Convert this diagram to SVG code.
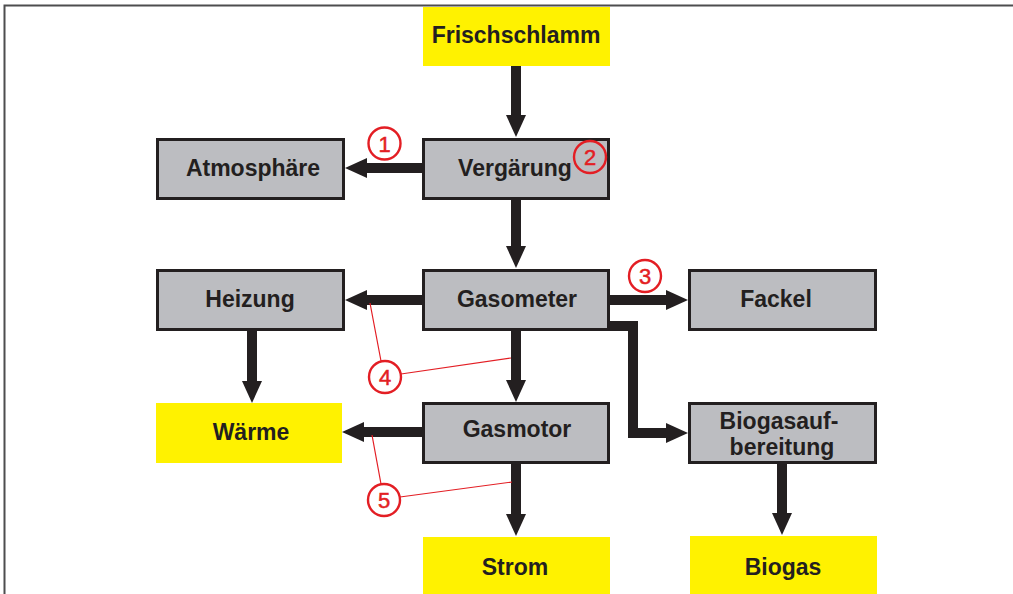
<svg xmlns="http://www.w3.org/2000/svg" width="1013" height="594" viewBox="0 0 1013 594">
<style>
.box{fill:#bcbdc1;stroke:#231f20;stroke-width:3}
.yel{fill:#fff200}
.t{font-family:"Liberation Sans",Arial,sans-serif;font-weight:bold;font-size:23px;fill:#231f20;text-anchor:middle}
.c{fill:none;stroke:#231f20;stroke-width:10;stroke-linejoin:miter}
.rc{fill:none;stroke:#e31e24;stroke-width:2.4}
.rl{fill:none;stroke:#e31e24;stroke-width:1.2}
.rn{font-family:"Liberation Sans",Arial,sans-serif;font-size:22px;fill:#e31e24;stroke:#e31e24;stroke-width:0.5;text-anchor:middle}
</style>
<defs>
<marker id="ah" viewBox="0 0 22 20" markerWidth="22" markerHeight="20" markerUnits="userSpaceOnUse" refX="1" refY="10" orient="auto">
<path d="M0,0 L22,10 L0,20 z" fill="#231f20"/>
</marker>
</defs>
<rect width="1013" height="594" fill="#ffffff"/>
<g id="frame" fill="none" stroke="#4d4d4f" stroke-width="2">
<path d="M4.5,594 V5.5 H1013"/>
</g>
<g id="connectors">
<path class="c" d="M516,66 V116" marker-end="url(#ah)"/>
<path class="c" d="M423,168 H366" marker-end="url(#ah)"/>
<path class="c" d="M516,200 V247" marker-end="url(#ah)"/>
<path class="c" d="M423,300 H366" marker-end="url(#ah)"/>
<path class="c" d="M609,300 H667" marker-end="url(#ah)"/>
<path class="c" d="M609,326 H633 V433 H667" marker-end="url(#ah)"/>
<path class="c" d="M516,331 V381" marker-end="url(#ah)"/>
<path class="c" d="M252,331 V382" marker-end="url(#ah)"/>
<path class="c" d="M423,432 H363" marker-end="url(#ah)"/>
<path class="c" d="M516,463 V515" marker-end="url(#ah)"/>
<path class="c" d="M782,463 V514" marker-end="url(#ah)"/>
</g>
<g id="frischschlamm"><rect class="yel" x="423" y="7" width="187" height="59"/><text class="t" x="516" y="43">Frischschlamm</text></g>
<g id="atmosphaere"><rect class="box" x="157.5" y="139.5" width="186" height="59"/><text class="t" x="253" y="176">Atmosphäre</text></g>
<g id="vergaerung"><rect class="box" x="423.5" y="139.5" width="185" height="59"/><text class="t" x="515" y="176">Vergärung</text></g>
<g id="heizung"><rect class="box" x="157.5" y="270.5" width="186" height="59"/><text class="t" x="250" y="307">Heizung</text></g>
<g id="gasometer"><rect class="box" x="423.5" y="270.5" width="185" height="59"/><text class="t" x="517" y="307">Gasometer</text></g>
<g id="fackel"><rect class="box" x="689.5" y="270.5" width="186" height="59"/><text class="t" x="776" y="307">Fackel</text></g>
<g id="waerme"><rect class="yel" x="156" y="403" width="186" height="60"/><text class="t" x="251" y="440">Wärme</text></g>
<g id="gasmotor"><rect class="box" x="423.5" y="403.5" width="185" height="59"/><text class="t" x="517" y="437">Gasmotor</text></g>
<g id="biogasaufbereitung"><rect class="box" x="689.5" y="403.5" width="186" height="59"/><text class="t" x="779" y="429">Biogasauf-</text><text class="t" x="782" y="455">bereitung</text></g>
<g id="strom"><rect class="yel" x="423" y="537" width="187" height="57"/><text class="t" x="515" y="575">Strom</text></g>
<g id="biogas"><rect class="yel" x="690" y="536" width="187" height="58"/><text class="t" x="783" y="575">Biogas</text></g>
<g id="annotations">
<circle class="rc" cx="384.5" cy="143.5" r="16"/><text class="rn" x="384.5" y="151.5">1</text>
<circle class="rc" cx="590" cy="157" r="16"/><text class="rn" x="590" y="165">2</text>
<circle class="rc" cx="645" cy="276" r="16"/><text class="rn" x="645" y="284">3</text>
<circle class="rc" cx="385" cy="377" r="16"/><text class="rn" x="385" y="385">4</text>
<path class="rl" d="M370,303 L381,361 M401,374 L511,358"/>
<circle class="rc" cx="384" cy="500" r="16"/><text class="rn" x="384" y="508">5</text>
<path class="rl" d="M372,435 L381,484 M400,497 L512,482"/>
</g>
</svg>
